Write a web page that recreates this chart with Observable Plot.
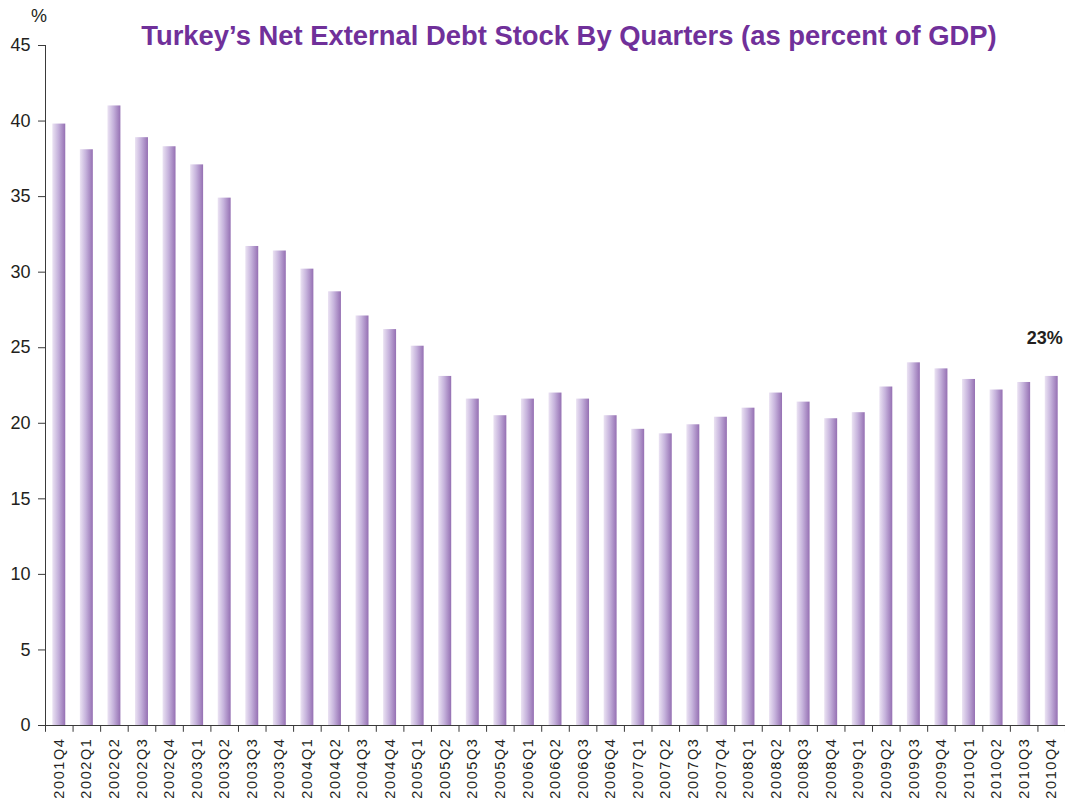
<!DOCTYPE html>
<html>
<head>
<meta charset="utf-8">
<script src="https://cdn.jsdelivr.net/npm/d3@7"></script>
<script src="https://cdn.jsdelivr.net/npm/@observablehq/plot@0.6"></script>
<style>
  body { margin: 0; background: #fff; font-family: "Liberation Sans", Arial, sans-serif; }
  #wrap { position: relative; width: 1065px; height: 803px; overflow: hidden; }
  #title { position: absolute; left: 569px; top: 20px; transform: translateX(-50%);
           font-weight: bold; font-size: 27.4px; color: #70309a; white-space: nowrap; }
  #unit { position: absolute; left: 31px; top: 6px; font-size: 18px; color: #231f20; }
  #chart svg g[aria-label="x-axis tick label"] text { letter-spacing: 1.6px; }
</style>
</head>
<body>
<div id="wrap">
  <div id="chart"></div>
  <div id="title">Turkey’s Net External Debt Stock By Quarters (as percent of GDP)</div>
  <div id="unit">%</div>
</div>
<script>
const quarters = [
  "2001Q4",
  "2002Q1","2002Q2","2002Q3","2002Q4",
  "2003Q1","2003Q2","2003Q3","2003Q4",
  "2004Q1","2004Q2","2004Q3","2004Q4",
  "2005Q1","2005Q2","2005Q3","2005Q4",
  "2006Q1","2006Q2","2006Q3","2006Q4",
  "2007Q1","2007Q2","2007Q3","2007Q4",
  "2008Q1","2008Q2","2008Q3","2008Q4",
  "2009Q1","2009Q2","2009Q3","2009Q4",
  "2010Q1","2010Q2","2010Q3","2010Q4"
];
const debtPctGDP = [
  39.8,
  38.1, 41.0, 38.9, 38.3,
  37.1, 34.9, 31.7, 31.4,
  30.2, 28.7, 27.1, 26.2,
  25.1, 23.1, 21.6, 20.5,
  21.6, 22.0, 21.6, 20.5,
  19.6, 19.3, 19.9, 20.4,
  21.0, 22.0, 21.4, 20.3,
  20.7, 22.4, 24.0, 23.6,
  22.9, 22.2, 22.7, 23.1
];
const yTicks = [0, 5, 10, 15, 20, 25, 30, 35, 40, 45];
const annotationText = "23%";

const data = quarters.map((q, i) => ({quarter: q, value: debtPctGDP[i]}));
const last = quarters[quarters.length - 1];

const W = 1065, H = 803, mL = 45, mR = 0, mT = 45, mB = 78;
const step = (W - mL - mR) / quarters.length;
const axisColor = "#3a3a3a";
const textColor = "#231f20";

const gradientDefs = () => {
  const defs = d3.create("svg:defs");
  const g = defs.append("linearGradient").attr("id", "barGrad")
    .attr("x1", 0).attr("x2", 1).attr("y1", 0).attr("y2", 0);
  g.append("stop").attr("offset", "0%").attr("stop-color", "#ebe3f3");
  g.append("stop").attr("offset", "45%").attr("stop-color", "#c6b3dc");
  g.append("stop").attr("offset", "100%").attr("stop-color", "#9570b3");
  return defs.node();
};

const chart = Plot.plot({
  width: W,
  height: H,
  marginLeft: mL,
  marginRight: mR,
  marginTop: mT,
  marginBottom: mB,
  style: {fontFamily: "'Liberation Sans', Arial, sans-serif", color: textColor, background: "#fff"},
  x: {domain: quarters, paddingInner: 0.53, paddingOuter: 0.265, round: false, axis: null, label: null},
  y: {domain: [0, 45], axis: null, label: null},
  marks: [
    gradientDefs,
    Plot.barY(data, {x: "quarter", y: "value", fill: "url(#barGrad)"}),
    // y axis
    Plot.axisY(yTicks, {tickSize: 7, tickPadding: 8, fontSize: 18, stroke: axisColor, fill: textColor, tickFormat: d => d, label: null}),
    Plot.ruleX([quarters[0]], {x: d => d, dx: -step / 2, y1: 0, y2: 45, stroke: axisColor}),
    // x axis line
    Plot.ruleY([0], {stroke: axisColor}),
    // x axis boundary ticks
    Plot.ruleX(quarters, {x: d => d, dx: -step / 2, y1: 0, y2: -0.45, stroke: axisColor}),
    Plot.ruleX([last], {x: d => d, dx: step / 2, y1: 0, y2: -0.45, stroke: axisColor}),
    // x axis labels
    Plot.axisX(quarters, {tickSize: 0, tickPadding: 12, tickRotate: -90, fontSize: 14.5, fill: textColor, label: null}),
    // annotation
    Plot.text([last], {x: d => d, y: () => debtPctGDP[debtPctGDP.length - 1], text: () => annotationText,
      dx: -7, dy: -38, fontSize: 18, fontWeight: "bold", fill: textColor})
  ]
});
document.getElementById("chart").appendChild(chart);
</script>
</body>
</html>
